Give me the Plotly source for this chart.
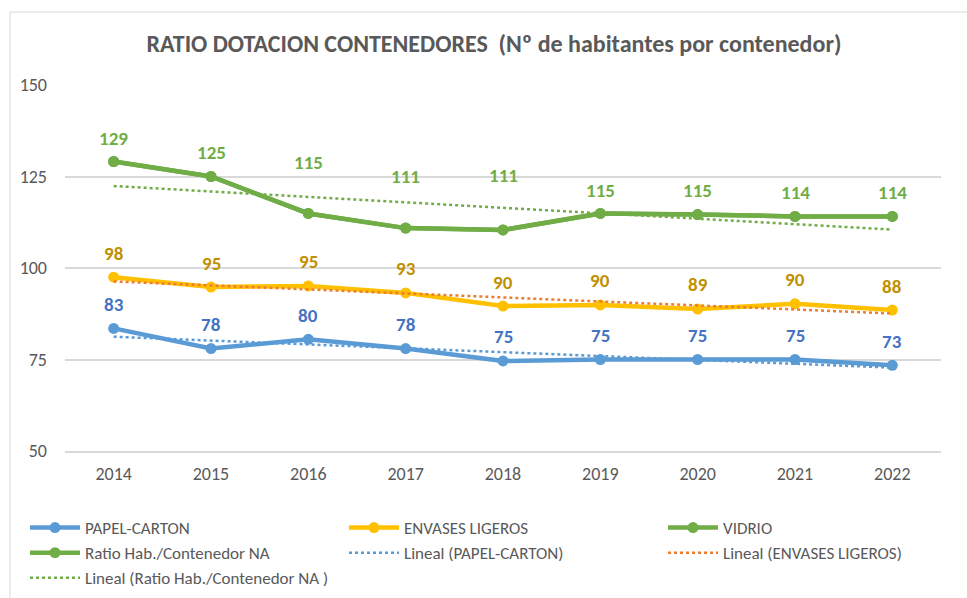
import numpy as np
import plotly.graph_objects as go

years = [2014, 2015, 2016, 2017, 2018, 2019, 2020, 2021, 2022]
papel = [83.5, 78.0, 80.5, 78.0, 74.6, 75.0, 75.0, 75.0, 73.4]
envases = [97.5, 94.8, 95.1, 93.2, 89.6, 89.9, 88.8, 90.2, 88.5]
vidrio = [129.1, 125.0, 114.9, 110.9, 110.4, 114.9, 114.6, 114.1, 114.1]
ratio_na = vidrio[:]

papel_lbl = ["83", "78", "80", "78", "75", "75", "75", "75", "73"]
envases_lbl = ["98", "95", "95", "93", "90", "90", "89", "90", "88"]
vidrio_lbl = ["129", "125", "115", "111", "111", "115", "115", "114", "114"]

BLUE = "#5B9BD5"
BLUE_TXT = "#4472C4"
GOLD = "#FFC000"
GOLD_TXT = "#BF9000"
GREEN = "#70AD47"
ORANGE = "#ED7D31"
GREY = "#595959"
FONT = "Carlito, Lato, sans-serif"

fig = go.Figure()

def line(name, ys, color, leg):
    fig.add_trace(go.Scatter(x=years, y=ys, name=name, mode="lines+markers",
                             line=dict(color=color, width=4.5),
                             marker=dict(color=color, size=11), legend=leg))

def trend(name, ys, color, leg):
    a, b = np.polyfit(years, ys, 1)
    xs = [years[0], years[-1]]
    fig.add_trace(go.Scatter(x=xs, y=[a * x + b for x in xs], name=name, mode="lines",
                             line=dict(color=color, width=2.5, dash="dot"), legend=leg))

line("PAPEL-CARTON", papel, BLUE, "legend")
line("ENVASES LIGEROS", envases, GOLD, "legend2")
line("VIDRIO", vidrio, GREEN, "legend3")
line("Ratio Hab./Contenedor NA", ratio_na, GREEN, "legend")
trend("Lineal (PAPEL-CARTON)", papel, BLUE, "legend2")
trend("Lineal (ENVASES LIGEROS)", envases, ORANGE, "legend3")
trend("Lineal (Ratio Hab./Contenedor NA )", ratio_na, GREEN, "legend")

label_shift_default = 24
green_shift = [23, 24, 51, 52, 54, 23, 24, 24, 24]

for ys, lbls, col, shifts in [
    (papel, papel_lbl, BLUE_TXT, [label_shift_default] * 9),
    (envases, envases_lbl, GOLD_TXT, [label_shift_default] * 9),
    (ratio_na, vidrio_lbl, GREEN, green_shift),
]:
    for x, y, t, s in zip(years, ys, lbls, shifts):
        fig.add_annotation(x=x, y=y, text=f"<b>{t}</b>", showarrow=False,
                           yshift=s, font=dict(color=col, size=19, family=FONT))

fig.add_shape(type="rect", xref="paper", yref="paper",
              x0=-55 / 876, x1=1.2, y0=-0.5, y1=(451 - 12) / 366,
              line=dict(color="#D9D9D9", width=1), layer="below")

leg_common = dict(orientation="v", xref="container", yref="container",
                  xanchor="left", y=1 - 510 / 598, yanchor="top", itemwidth=50,
                  font=dict(size=17, color=GREY, family=FONT),
                  bgcolor="rgba(0,0,0,0)", traceorder="normal")

fig.update_layout(
    width=967, height=598,
    margin=dict(l=65, r=26, t=85, b=147, autoexpand=False),
    paper_bgcolor="white", plot_bgcolor="white",
    font=dict(family=FONT, color=GREY, size=18),
    title=dict(text="<b>RATIO DOTACION CONTENEDORES  (Nº de habitantes por contenedor)</b>",
               x=494 / 967, xanchor="center", y=1 - 44 / 598, yanchor="middle",
               font=dict(size=24, color=GREY, family=FONT)),
    xaxis=dict(range=[2013.5, 2022.5], tickvals=years, showgrid=False, zeroline=False,
               showline=True, linecolor="#D9D9D9", linewidth=1.5,
               ticks="", ticklabelstandoff=6, tickfont=dict(size=18, color=GREY)),
    yaxis=dict(range=[50, 150], tickvals=[50, 75, 100, 125, 150], showgrid=True,
               gridcolor="#D9D9D9", gridwidth=1.5, zeroline=False, showline=False,
               ticks="", ticklabelstandoff=17, tickfont=dict(size=18, color=GREY)),
    legend=dict(x=25 / 967, **leg_common),
    legend2=dict(x=344 / 967, **leg_common),
    legend3=dict(x=663 / 967, **leg_common),
    showlegend=True,
)

fig.write_html("out.html", config={"displayModeBar": False},
               post_script="document.body.style.margin='0px';")
